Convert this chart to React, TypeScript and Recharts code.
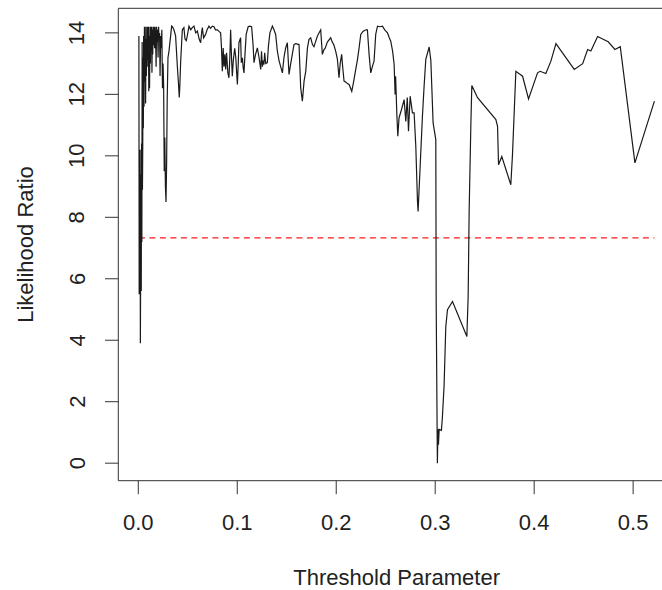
import { LineChart, Line, XAxis, YAxis, ReferenceLine } from 'recharts';

// threshold parameter values (x) and the likelihood ratio read at each one (y)
const thresholds = [
  0.0006, 0.0009, 0.0012, 0.0015, 0.0018, 0.0021, 0.0024, 0.0027, 0.003, 0.0033,
  0.0036, 0.0039, 0.0042, 0.0045, 0.0048, 0.0051, 0.0054, 0.0058, 0.0062, 0.0066,
  0.007, 0.0074, 0.0078, 0.0082, 0.0086, 0.009, 0.0094, 0.0098, 0.0102, 0.0106,
  0.011, 0.0114, 0.0118, 0.0122, 0.0126, 0.013, 0.0134, 0.0138, 0.0142, 0.0146,
  0.015, 0.0155, 0.016, 0.0165, 0.017, 0.0175, 0.018, 0.0185, 0.019, 0.0195,
  0.02, 0.0205, 0.021, 0.0215, 0.022, 0.0226, 0.0232, 0.0238, 0.0244, 0.025,
  0.0256, 0.0262, 0.0268, 0.0274, 0.028, 0.0286, 0.0292, 0.03, 0.031, 0.032,
  0.033, 0.0337, 0.0345, 0.036, 0.0377, 0.0395, 0.0405, 0.0414, 0.042, 0.0428,
  0.0445, 0.0461, 0.0472, 0.0485, 0.0495, 0.0512, 0.053, 0.0545, 0.0562, 0.058,
  0.0597, 0.0615, 0.063, 0.064, 0.0647, 0.066, 0.068, 0.0695, 0.0714, 0.073,
  0.0748, 0.0765, 0.078, 0.0799, 0.0815, 0.0832, 0.084, 0.0849, 0.0858, 0.0866,
  0.0875, 0.0883, 0.0892, 0.0905, 0.0916, 0.0925, 0.0933, 0.0942, 0.095, 0.096,
  0.0974, 0.0985, 0.1001, 0.101, 0.1017, 0.1034, 0.1041, 0.1052, 0.106, 0.1068,
  0.1078, 0.109, 0.111, 0.1128, 0.1145, 0.116, 0.1169, 0.1185, 0.1203, 0.122,
  0.1237, 0.1245, 0.1254, 0.1262, 0.127, 0.1277, 0.1288, 0.1304, 0.1315, 0.133,
  0.1355, 0.1371, 0.1388, 0.1405, 0.1422, 0.1456, 0.1472, 0.1489, 0.1506, 0.1523,
  0.154, 0.1573, 0.159, 0.1624, 0.1641, 0.1658, 0.1675, 0.1692, 0.1709, 0.1725,
  0.1742, 0.176, 0.1775, 0.179, 0.181, 0.1843, 0.186, 0.1875, 0.189, 0.191,
  0.1944, 0.196, 0.1975, 0.1995, 0.2012, 0.2028, 0.204, 0.2055, 0.2065, 0.2079,
  0.2095, 0.2113, 0.213, 0.2157, 0.2175, 0.2197, 0.2215, 0.2231, 0.2248, 0.227,
  0.23, 0.2315, 0.2332, 0.2349, 0.2365, 0.2382, 0.2399, 0.2417, 0.244, 0.2467,
  0.249, 0.2518, 0.2535, 0.2551, 0.257, 0.2585, 0.2595, 0.26, 0.2612, 0.2622,
  0.2635, 0.2659, 0.2686, 0.2703, 0.2718, 0.273, 0.2747, 0.277, 0.2787, 0.2804,
  0.2821, 0.2827, 0.2848, 0.2871, 0.2888, 0.2905, 0.2939, 0.2956, 0.2979, 0.3006,
  0.301, 0.3022, 0.3028, 0.3033, 0.304, 0.3063, 0.3073, 0.309, 0.3107, 0.3124,
  0.3175, 0.332, 0.3333, 0.3343, 0.336, 0.337, 0.3428, 0.3613, 0.363, 0.364,
  0.3673, 0.3764, 0.3781, 0.3815, 0.3883, 0.3943, 0.4034, 0.406, 0.4118, 0.4169,
  0.422, 0.4405, 0.449, 0.454, 0.4573, 0.4641, 0.4748, 0.4816, 0.487, 0.5018,
  0.5215,
];

const ratios = [
  13.9, 5.5, 9.8, 5.8, 10.2, 3.9, 6.3, 9.4, 5.6, 10.4,
  7.2, 13.7, 8.9, 10.3, 13.2, 10.9, 13.9, 11.6, 14.2, 12.4,
  14.2, 11.7, 13.8, 12.6, 14.2, 12.9, 14.2, 13.1, 14.2, 12.1,
  13.9, 12.2, 14.2, 13.0, 14.2, 13.4, 14.2, 12.7, 14.1, 13.3,
  14.2, 13.6, 14.2, 13.5, 14.2, 13.9, 12.9, 14.2, 13.7, 14.1,
  13.2, 14.2, 13.8, 14.0, 12.6, 13.9, 13.5, 14.1, 12.2, 13.0,
  12.3, 9.5, 10.6, 9.0, 8.5, 9.7, 11.8, 13.2, 13.4, 13.7,
  14.0, 14.22, 14.2, 14.1, 13.9, 12.9, 12.4, 11.9, 12.3, 13.05,
  14.1, 14.17, 13.8, 13.75, 13.9, 14.22, 14.1, 14.17, 14.22, 14.0,
  14.06, 13.8, 13.68, 14.0, 14.17, 13.84, 13.95, 14.1, 14.22, 14.15,
  14.22, 14.2, 14.1, 14.1, 14.05, 14.0, 13.57, 12.75, 13.51, 12.9,
  13.3, 12.81, 13.35, 12.7, 12.54, 13.2, 14.1, 13.2, 12.59, 13.1,
  13.5, 13.2, 12.32, 13.0, 13.68, 13.84, 13.03, 13.19, 12.86, 12.7,
  13.3, 13.95, 14.2, 14.22, 14.2, 13.6, 13.03, 13.3, 13.51, 13.2,
  12.81, 13.4, 12.9, 13.1, 12.97, 13.35, 13.0, 13.03, 13.57, 14.0,
  14.22, 14.1, 13.95, 13.41, 13.1, 12.7, 13.2, 13.51, 13.68, 12.65,
  13.0, 13.62, 13.65, 13.62, 12.21, 11.78, 12.43, 12.75, 13.51, 13.79,
  13.84, 13.62, 13.55, 13.7, 13.9, 14.1, 13.3, 13.45, 13.51, 13.7,
  13.84, 13.7, 13.62, 13.4, 13.14, 12.54, 13.0, 13.3, 12.9, 12.43,
  12.4, 12.35, 12.32, 12.1, 12.4, 12.81, 13.14, 13.51, 13.95, 14.05,
  14.1, 14.1, 13.3, 12.7, 12.9, 13.08, 13.95, 14.22, 14.2, 14.22,
  14.1, 14.0, 13.85, 13.73, 13.4, 12.97, 12.0, 12.59, 11.4, 10.64,
  11.24, 11.5, 11.83, 11.12, 11.9, 10.8, 11.94, 11.4, 11.4, 10.31,
  8.52, 8.19, 9.66, 11.29, 12.27, 13.14, 13.54, 13.1, 11.07, 10.53,
  5.2, 0.0, 1.1, 0.6, 1.1, 1.07, 1.51, 2.54, 4.44, 4.99,
  5.26, 4.12, 5.42, 8.19, 10.96, 12.29, 11.89, 11.18, 10.96, 9.71,
  9.98, 9.06, 10.04, 12.75, 12.59, 11.85, 12.7, 12.75, 12.68, 13.08,
  13.65, 12.81, 13.0, 13.46, 13.41, 13.88, 13.71, 13.46, 13.55, 9.77,
  11.78,
];

const cutoff = 7.33;
const xTicks = [0, 0.1, 0.2, 0.3, 0.4, 0.5];
const yTicks = [0, 2, 4, 6, 8, 10, 12, 14];

const data = thresholds.map((t, i) => ({ t, lr: ratios[i] }));
const cutoffData = [
  { t: thresholds[0], c: cutoff },
  { t: thresholds[thresholds.length - 1], c: cutoff },
];

const font = '"Liberation Sans", Arial, sans-serif';
const ink = '#222';
const yMax = 14.8;

const YTick = (props: any) => {
  const { x, y, payload } = props;
  return (
    <text
      x={x}
      y={y}
      dy="0.355em"
      transform={`rotate(-90, ${x}, ${y})`}
      textAnchor="middle"
      fill={ink}
      fontSize={22}
      fontFamily={font}
    >
      {payload.value}
    </text>
  );
};

export default function App() {
  return (
    <div
      style={{
        position: 'absolute',
        left: 0,
        top: 0,
        width: 662,
        height: 590,
        overflow: 'hidden',
        background: '#fff',
      }}
    >
      <LineChart width={675} height={590} data={data} margin={{ top: 8.3, right: 0, bottom: 0, left: 0 }}>
        <XAxis
          dataKey="t"
          type="number"
          domain={[-0.0202, 0.5423]}
          ticks={xTicks}
          tickFormatter={(v: number) => v.toFixed(1)}
          height={109.3}
          tickSize={13.5}
          tickMargin={20}
          stroke="#333"
          tick={{ fill: ink, fontSize: 22, fontFamily: font }}
          allowDataOverflow
          label={{
            value: 'Threshold Parameter',
            position: 'insideBottom',
            offset: 5,
            fill: ink,
            fontSize: 22,
            fontFamily: font,
          }}
        />
        <YAxis
          type="number"
          domain={[-0.57, yMax]}
          ticks={yTicks}
          width={118.3}
          tickSize={13.3}
          tickMargin={28.3}
          stroke="#333"
          tick={<YTick />}
          allowDataOverflow
          label={{
            value: 'Likelihood Ratio',
            angle: -90,
            position: 'insideLeft',
            offset: 25,
            fill: ink,
            fontSize: 22,
            fontFamily: font,
            style: { textAnchor: 'middle' },
          }}
        />
        <ReferenceLine y={yMax} stroke="#333" />
        <Line
          data={cutoffData}
          dataKey="c"
          stroke="#ff1a1a"
          strokeWidth={1.4}
          strokeDasharray="6 4.5"
          dot={false}
          isAnimationActive={false}
        />
        <Line
          dataKey="lr"
          type="linear"
          stroke="#1a1a1a"
          strokeWidth={1.2}
          dot={false}
          isAnimationActive={false}
        />
      </LineChart>
    </div>
  );
}
